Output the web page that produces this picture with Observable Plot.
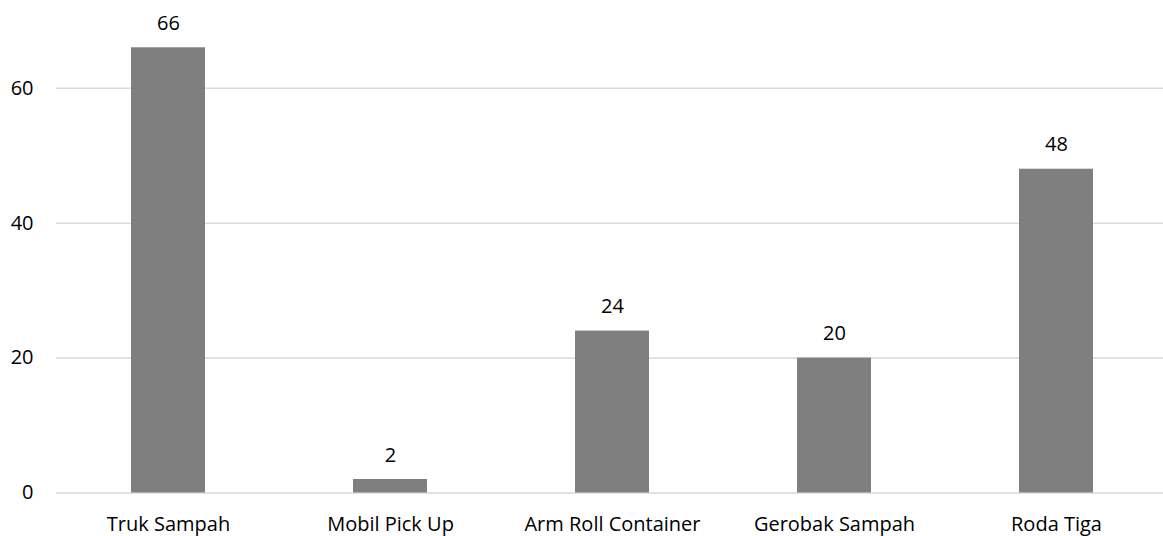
<!DOCTYPE html>
<html>
<head>
<meta charset="utf-8">
<script src="https://cdn.jsdelivr.net/npm/d3@7"></script>
<script src="https://cdn.jsdelivr.net/npm/@observablehq/plot@0.6"></script>
<style>
  html, body { margin: 0; padding: 0; background: #fff; }
</style>
</head>
<body>
<div id="chart"></div>
<script>
const categories = ["Truk Sampah", "Mobil Pick Up", "Arm Roll Container", "Gerobak Sampah", "Roda Tiga"];
const values = [66, 2, 24, 20, 48];
const yTicks = [0, 20, 40, 60];

const data = categories.map((c, i) => ({cat: c, value: values[i]}));

const chart = Plot.plot({
  width: 1163,
  height: 536,
  marginLeft: 56,
  marginRight: 0,
  marginTop: 20.3,
  marginBottom: 43.5,
  x: {domain: categories, range: [56, 1167], paddingInner: 0.667, paddingOuter: 0.333, label: null},
  y: {domain: [0, 70], label: null},
  style: {fontFamily: "'Open Sans', sans-serif", fontSize: "20px", color: "#000", background: "#fff"},
  marks: [
    Plot.gridY(yTicks, {stroke: "#d9d9d9", strokeOpacity: 1, strokeWidth: 1.5}),
    Plot.barY(data, {x: "cat", y: "value", fill: "#7f7f7f"}),
    Plot.text(data, {x: "cat", y: "value", text: d => String(d.value), dy: -18, lineAnchor: "bottom", fontSize: 20, fill: "#000"}),
    Plot.axisY(yTicks, {tickSize: 0, tickPadding: 23, fontSize: 20, fill: "#000"}),
    Plot.axisX({tickSize: 0, tickPadding: 23.5, fontSize: 20, fill: "#000", label: null})
  ]
});
document.getElementById("chart").appendChild(chart);
</script>
</body>
</html>
